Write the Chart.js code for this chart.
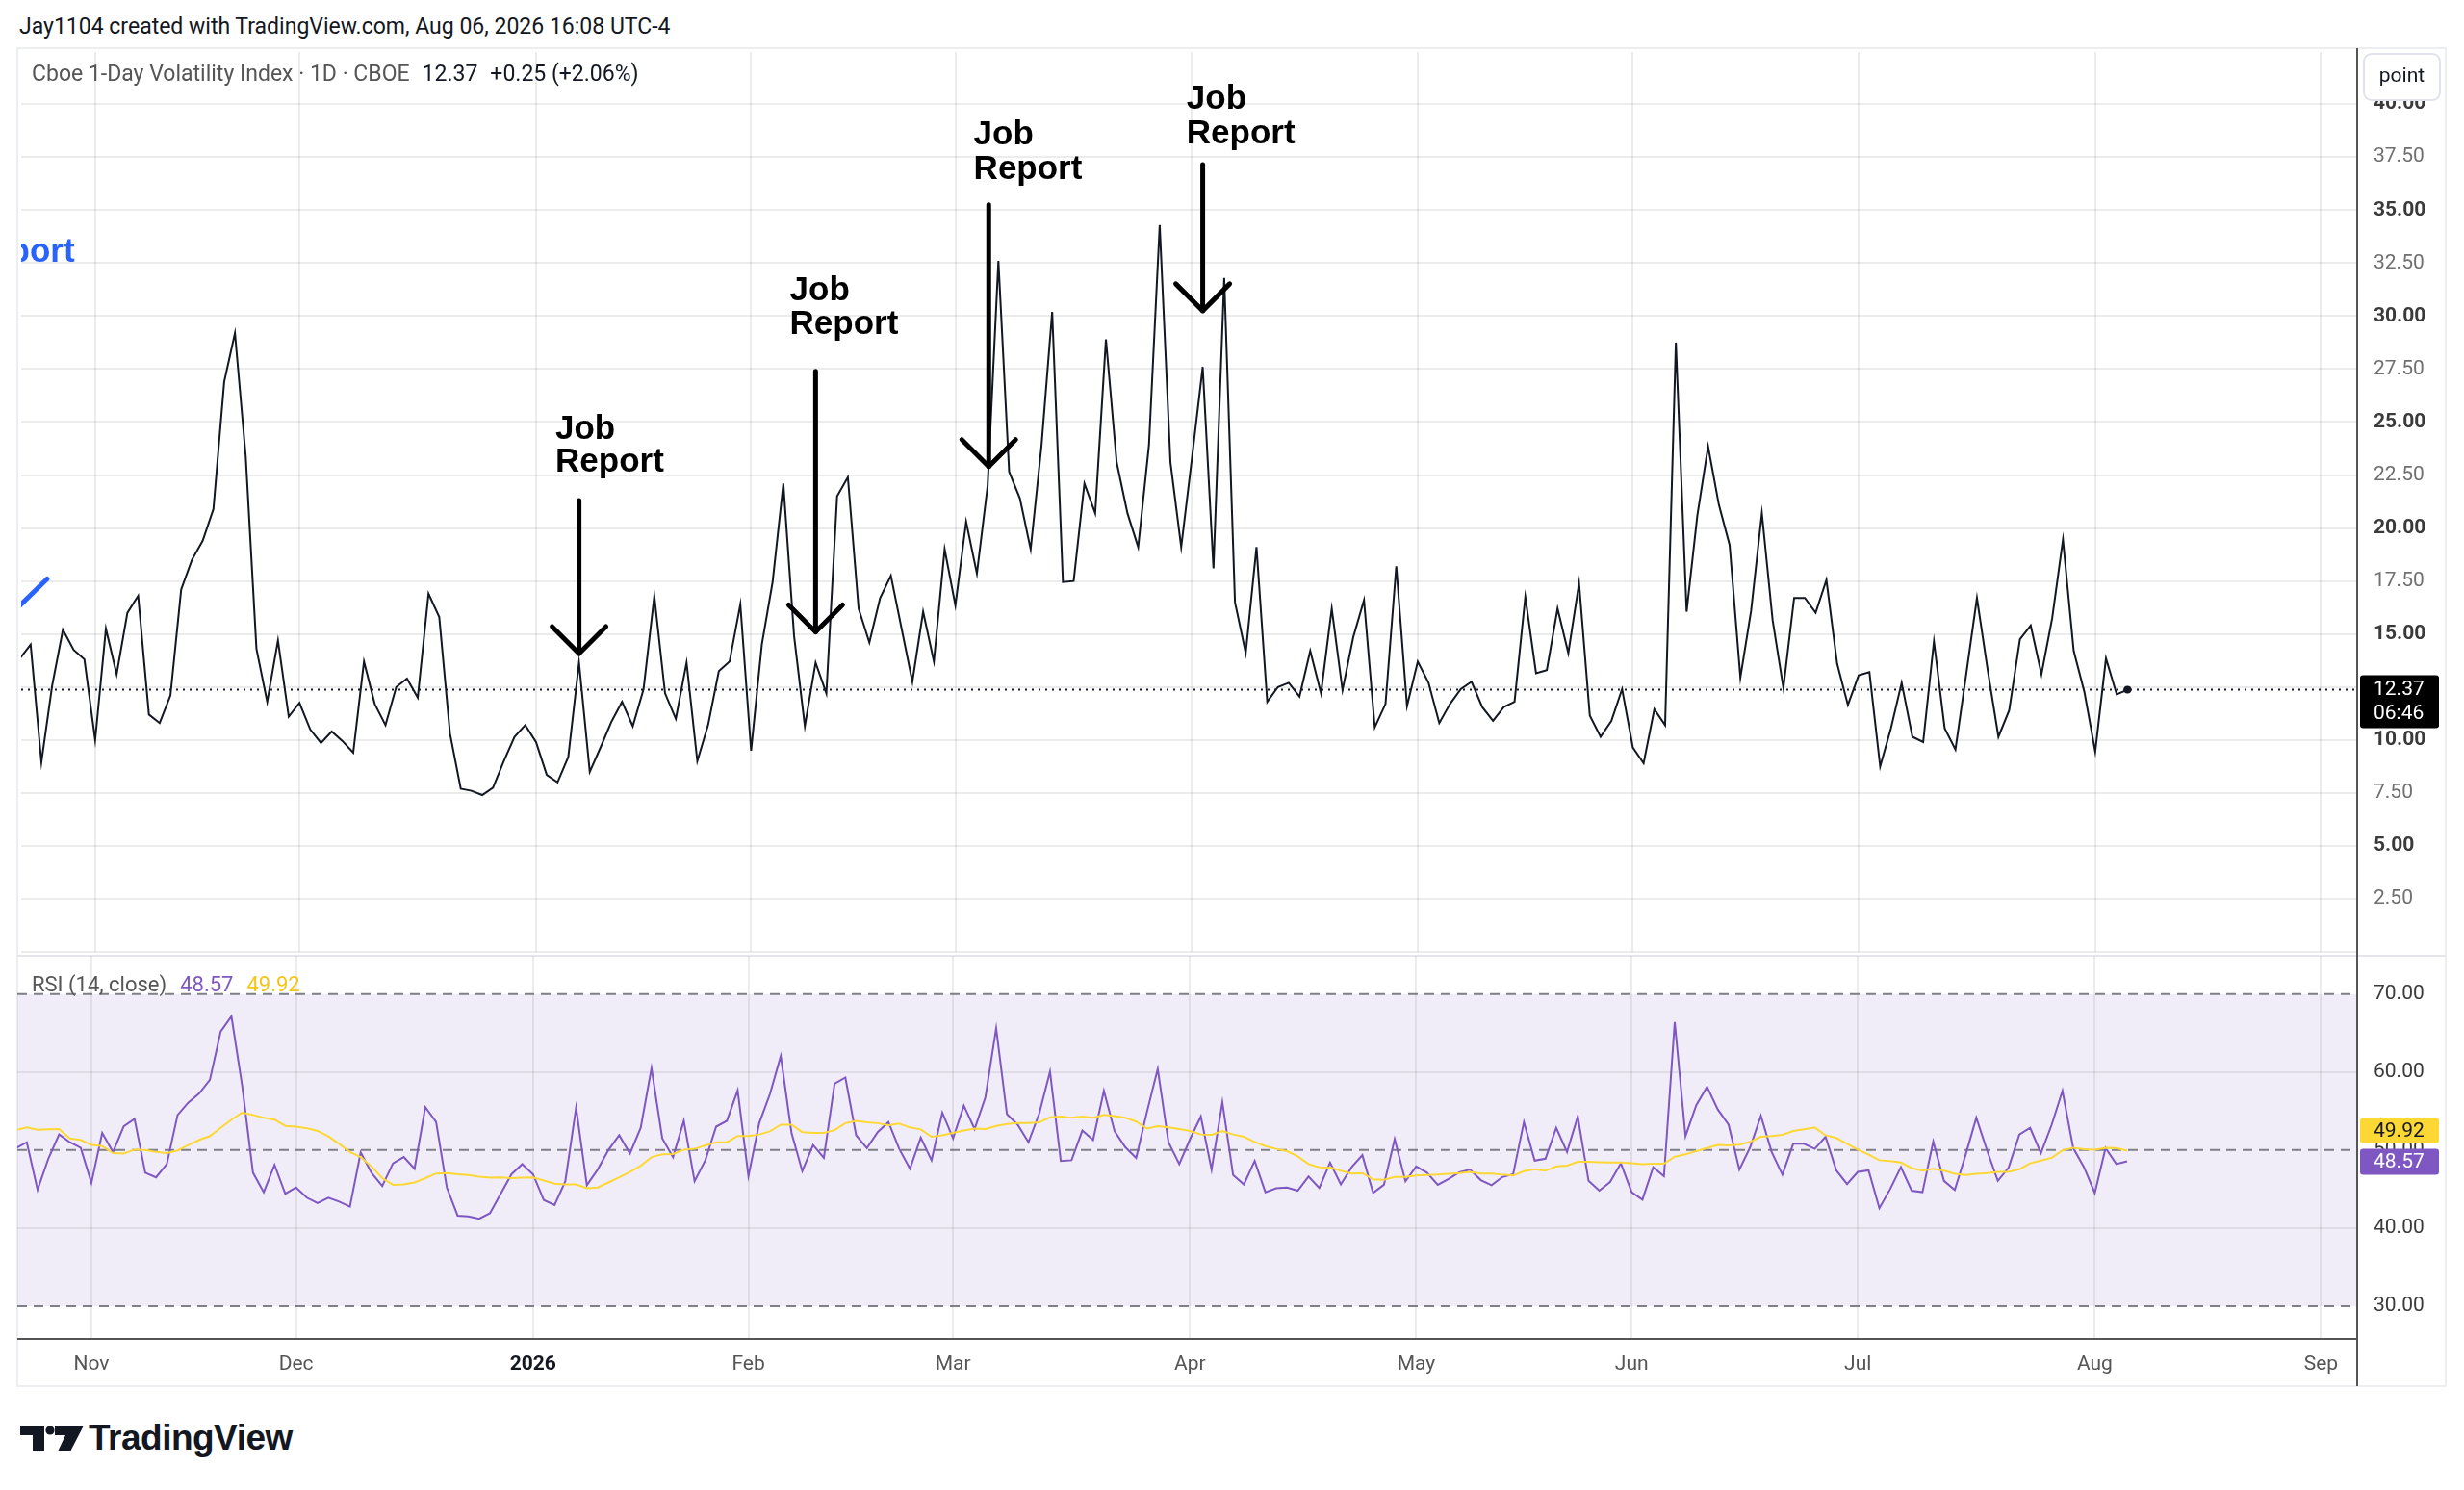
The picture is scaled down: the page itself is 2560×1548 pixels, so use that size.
<!DOCTYPE html>
<html>
<head>
<meta charset="utf-8">
<title>Cboe 1-Day Volatility Index</title>
<script src="https://cdn.jsdelivr.net/npm/chart.js@4.4.1/dist/chart.umd.min.js"></script>
<style>
  body { margin: 0; background: #fff; width: 2560px; height: 1548px; position: relative; overflow: hidden;
         font-family: Roboto, "Liberation Sans", sans-serif; color: #131722; }
  #frame { position: absolute; left: 17px; top: 49px; width: 2525px; height: 1392px; box-sizing: border-box;
           border: 2px solid #eceef2; }
  .wrap { position: absolute; }
  .wrap canvas { display: block; }
  #header { position: absolute; left: 20px; top: 15px; font-size: 23px; line-height: 26px; white-space: nowrap; }
  .legend { position: absolute; left: 33px; line-height: 26px; white-space: nowrap; color: #555; }
  #sep { position: absolute; left: 18px; top: 992px; width: 2523px; height: 2px; background: #e6e6ea; }
  #axisLine { position: absolute; left: 2448px; top: 50px; width: 2px; height: 1390px; background: #555; }
  #logo { position: absolute; left: 21px; top: 1478px; height: 32px; display: flex; align-items: center; }
  #logo span { font-family: "Liberation Sans", Arial, sans-serif; font-weight: bold; font-size: 37px;
               margin-left: 4px; letter-spacing: -0.5px; color: #131722; }
</style>
</head>
<body>
<div id="frame"></div>
<div id="sep"></div>
<div class="wrap" style="left:18px;top:50px"><canvas id="mainChart" width="2523" height="943"></canvas></div>
<div class="wrap" style="left:18px;top:993px"><canvas id="rsiChart" width="2523" height="447"></canvas></div>
<div id="axisLine"></div>

<div id="header">Jay1104 created with TradingView.com, Aug 06, 2026 16:08 UTC-4</div>
<div class="legend" style="top:64px;font-size:23px">Cboe 1-Day Volatility Index · 1D · CBOE<span style="color:#131722;margin-left:13px">12.37</span><span style="color:#131722;margin-left:13px">+0.25 (+2.06%)</span></div>
<div class="legend" style="top:1010px;font-size:22px">RSI (14, close)<span style="color:#7e57c2;margin-left:14px">48.57</span><span style="color:#f5c518;margin-left:14px">49.92</span></div>

<div id="logo">
  <svg width="67" height="27" viewBox="0 0 67 27">
    <path d="M0 0 H25 V27 H13 V10 H0 Z" fill="#131722"/>
    <circle cx="31" cy="5" r="4.6" fill="#131722"/>
    <path d="M36 0 H66 L52 27 H39 L47 10 H36 Z" fill="#131722"/>
  </svg>
  <span>TradingView</span>
</div>

<script>
// daily closes, one per trading bar (bar 0 = first visible bar)
const vixClose = [
  13.85, 14.5, 8.95, 12.56, 15.2, 14.25, 13.8, 10.0, 15.25, 13.1,
  16.0, 16.8, 11.2, 10.8, 12.1, 17.1, 18.5, 19.4, 20.9, 26.9,
  29.2, 23.4, 14.3, 11.8, 14.7, 11.1, 11.75, 10.5, 9.86, 10.4,
  9.95, 9.4, 13.7, 11.7, 10.7, 12.5, 12.9, 12.0, 16.9, 15.8,
  10.3, 7.7, 7.6, 7.4, 7.75, 9.0, 10.15, 10.7, 9.9, 8.35,
  8.0, 9.2, 13.65, 8.5, 9.65, 10.85, 11.8, 10.65, 12.4, 16.8,
  12.2, 11.0, 13.65, 9.0, 10.7, 13.25, 13.7, 16.4, 9.5, 14.5,
  17.45, 22.1, 14.9, 10.65, 13.65, 12.2, 21.5, 22.4, 16.2, 14.6,
  16.7, 17.75, 15.25, 12.75, 16.05, 13.7, 19.0, 16.35, 20.3, 17.85,
  22.0, 32.6, 22.65, 21.4, 19.0, 23.85, 30.2, 17.45, 17.5, 22.1,
  20.7, 28.9, 23.1, 20.7, 19.1, 23.9, 34.3, 23.1, 19.1, 23.3,
  27.6, 18.1, 31.8, 16.5, 14.1, 19.1, 11.8, 12.5, 12.7, 12.05,
  14.2, 12.2, 16.2, 12.35, 14.85, 16.6, 10.6, 11.7, 18.2, 11.6,
  13.7, 12.7, 10.8, 11.7, 12.4, 12.75, 11.55, 10.9, 11.55, 11.8,
  16.75, 13.15, 13.3, 16.2, 14.1, 17.4, 11.15, 10.15, 10.9, 12.4,
  9.65, 8.9, 11.45, 10.7, 28.75, 16.05, 20.6, 23.85, 21.1, 19.2,
  12.95, 16.1, 20.7, 15.65, 12.45, 16.7, 16.7, 16.0, 17.55, 13.6,
  11.65, 13.05, 13.2, 8.75, 10.55, 12.7, 10.15, 9.9, 14.65, 10.55,
  9.55, 13.1, 16.7, 13.3, 10.15, 11.4, 14.75, 15.4, 13.1, 15.75,
  19.45, 14.2, 12.25, 9.45, 13.85, 12.15, 12.37
];

const rsiValues = [
  50.25, 51.0, 44.9, 48.9, 52.0, 51.0, 50.3, 45.8, 52.2, 49.75,
  53.05, 54.0, 47.1, 46.5, 48.2, 54.5, 56.1, 57.25, 59.0, 65.2,
  67.15, 58.2, 47.1, 44.6, 48.1, 44.4, 45.2, 43.9, 43.2, 43.9,
  43.4, 42.75, 49.7, 47.1, 45.4, 48.3, 49.1, 47.6, 55.5, 53.6,
  45.2, 41.6, 41.5, 41.2, 41.9, 44.4, 46.9, 48.2, 46.9, 43.6,
  42.95, 46.0, 55.45, 45.5, 47.5, 50.0, 51.9, 49.55, 52.85, 60.5,
  51.5, 49.1, 53.75, 46.0, 48.7, 53.0, 53.75, 57.65, 46.65, 53.45,
  57.2, 62.05, 52.2, 47.3, 50.65, 49.0, 58.5, 59.3, 51.9, 50.25,
  52.3, 53.6, 50.15, 47.6, 51.6, 48.7, 54.8, 51.5, 55.7, 52.7,
  56.75, 65.6, 54.6, 53.25, 51.0, 54.7, 60.05, 48.6, 48.7, 52.5,
  51.3, 57.6, 52.4, 50.35, 49.0, 54.9, 60.4, 51.0, 48.2, 51.4,
  54.3, 47.5, 56.15, 46.8, 45.6, 48.6, 44.6, 45.1, 45.2, 44.8,
  46.6, 45.15, 48.4, 45.6, 47.8, 49.35, 44.5, 45.55, 51.4, 46.0,
  47.9, 47.1, 45.55, 46.3, 47.15, 47.5, 46.15, 45.5, 46.55, 46.9,
  53.6, 48.65, 48.9, 52.85, 49.75, 54.3, 46.05, 44.8, 45.9, 48.3,
  44.6, 43.65, 47.8, 46.65, 66.4, 51.8, 55.75, 58.1, 55.2, 53.25,
  47.5, 50.35, 54.4, 49.75, 46.85, 50.8, 50.8, 50.15, 51.7, 47.4,
  45.65, 47.2, 47.4, 42.55, 45.0, 47.8, 44.8, 44.6, 51.1, 46.05,
  44.9, 49.35, 54.15, 49.95, 46.05, 47.75, 52.0, 52.85, 49.6, 53.25,
  57.6, 50.25, 47.8, 44.5, 50.25, 48.2, 48.57
];

const rsiMA = [
  52.55, 52.9, 52.6, 52.65, 52.7, 51.5, 51.3, 50.65, 50.5, 49.6,
  49.55, 50.05, 50.0, 49.75, 49.6, 49.95, 50.65, 51.3, 51.8, 52.85,
  53.9, 54.8, 54.5, 54.15, 53.9, 53.1, 53.0, 52.8, 52.45, 51.75,
  50.8, 49.75, 49.1, 47.9, 46.4, 45.55, 45.6, 45.85, 46.4, 47.0,
  47.05, 46.9, 46.8, 46.6, 46.45, 46.5, 46.4, 46.45, 46.5, 46.1,
  45.7, 45.6, 45.6, 45.1, 45.2, 45.85, 46.5, 47.2, 48.0, 49.1,
  49.45, 49.5, 50.05, 50.15, 50.6, 51.0, 51.0, 51.8, 51.8, 52.0,
  52.4, 53.25, 53.25, 52.3, 52.2, 52.2, 52.55, 53.45, 53.75, 53.55,
  53.45, 53.2, 53.4, 52.9, 52.65, 51.7, 51.9, 52.2, 52.5, 52.75,
  52.7, 53.1, 53.35, 53.45, 53.45, 53.55, 54.2, 54.3, 54.15, 54.3,
  54.15, 54.5, 54.35, 54.15, 53.65, 52.75, 53.05, 52.9, 52.7, 52.45,
  52.0, 51.95, 52.45, 52.0, 51.7, 51.05, 50.5, 50.15, 49.85, 49.2,
  48.2, 47.8, 47.75, 47.35, 47.0, 47.05, 46.25, 46.2, 46.55, 46.55,
  46.75, 46.8, 46.85, 46.95, 47.05, 47.2, 47.0, 47.0, 46.85, 46.75,
  47.3, 47.55, 47.35, 47.9, 48.0, 48.5, 48.5, 48.45, 48.4, 48.4,
  48.3, 48.2, 48.25, 48.25, 49.15, 49.45, 49.85, 50.25, 50.65, 50.6,
  50.7, 51.05, 51.7, 51.8, 51.95, 52.45, 52.65, 52.9, 51.9, 51.55,
  50.8, 50.05, 49.4, 48.7, 48.6, 48.4, 47.7, 47.35, 47.6, 47.35,
  46.95, 46.8, 46.95, 47.05, 47.2, 47.2, 47.55, 48.3, 48.65, 49.0,
  49.95, 50.3, 50.1, 50.05, 50.3, 50.25, 49.92
];

// time axis: bar index where each month starts, and its label
const monthIdx = [7, 26, 48, 68, 87, 109, 130, 150, 171, 193, 214];
const monthLabels = ['Nov', 'Dec', '2026', 'Feb', 'Mar', 'Apr', 'May', 'Jun', 'Jul', 'Aug', 'Sep'];

// "Job Report" drawings, placed in bar / price units
const jobNotes = [
  { bar: 52.0, tip: 14.08, top: 21.3, textBar: 49.8, jobAt: 24.66, reportAt: 23.08 },
  { bar: 74.0, tip: 15.1, top: 27.4, textBar: 71.6, jobAt: 31.2, reportAt: 29.6 },
  { bar: 90.1, tip: 22.9, top: 35.25, textBar: 88.7, jobAt: 38.55, reportAt: 36.9 },
  { bar: 110.0, tip: 30.25, top: 37.15, textBar: 108.5, jobAt: 40.2, reportAt: 38.6 }
];
const blueNote = { textEndBar: 5.1, at: 33.0, from: [-1.5, 15.6], to: [2.53, 17.6] };

const X_MIN = 0.12, X_MAX = 217.36;
const FONT = 'Roboto, "Liberation Sans", sans-serif';
const GRID = 'rgba(0,0,0,0.075)';

Chart.defaults.font.family = FONT;

const monthTicks = function (scale) {
  scale.ticks = monthIdx.map(v => ({ value: v }));
};
// keep the plot area flush with the canvas edges
const noPad = function (s) {
  s.paddingTop = 0;
  s.paddingBottom = 0;
  s.paddingLeft = 0;
  s.paddingRight = 0;
};

const mainDecor = {
  id: 'mainDecor',
  beforeDatasetsDraw(chart) {
    const { ctx, chartArea: a, scales: { y } } = chart;
    const py = y.getPixelForValue(vixClose[vixClose.length - 1]);
    ctx.save();
    ctx.strokeStyle = '#131722';
    ctx.lineWidth = 2;
    ctx.setLineDash([2, 5]);
    ctx.beginPath();
    ctx.moveTo(a.left, py);
    ctx.lineTo(a.right, py);
    ctx.stroke();
    ctx.restore();
  },
  afterDraw(chart) {
    const { ctx, chartArea: a, scales: { x, y } } = chart;
    ctx.save();
    ctx.strokeStyle = '#000';
    ctx.fillStyle = '#000';
    ctx.lineWidth = 5;
    ctx.lineCap = 'round';
    ctx.lineJoin = 'round';
    ctx.font = 'bold 35px "Liberation Sans", Arial, sans-serif';
    ctx.textBaseline = 'middle';
    ctx.textAlign = 'left';
    jobNotes.forEach(n => {
      const ax = x.getPixelForValue(n.bar);
      const tip = y.getPixelForValue(n.tip);
      ctx.beginPath();
      ctx.moveTo(ax, y.getPixelForValue(n.top));
      ctx.lineTo(ax, tip);
      ctx.stroke();
      ctx.beginPath();
      ctx.moveTo(ax - 28, tip - 28);
      ctx.lineTo(ax, tip);
      ctx.lineTo(ax + 28, tip - 28);
      ctx.stroke();
      const tx = x.getPixelForValue(n.textBar);
      ctx.fillText('Job', tx, y.getPixelForValue(n.jobAt));
      ctx.fillText('Report', tx, y.getPixelForValue(n.reportAt));
    });

    // note that runs off the left edge
    ctx.save();
    ctx.beginPath();
    ctx.rect(a.left, a.top, a.right - a.left, a.bottom - a.top);
    ctx.clip();
    ctx.fillStyle = '#2962ff';
    ctx.strokeStyle = '#2962ff';
    ctx.textAlign = 'right';
    ctx.fillText('Report', x.getPixelForValue(blueNote.textEndBar), y.getPixelForValue(blueNote.at));
    ctx.beginPath();
    ctx.moveTo(x.getPixelForValue(blueNote.from[0]), y.getPixelForValue(blueNote.from[1]));
    ctx.lineTo(x.getPixelForValue(blueNote.to[0]), y.getPixelForValue(blueNote.to[1]));
    ctx.stroke();
    ctx.restore();

    // last price tag
    const last = vixClose[vixClose.length - 1];
    const py = y.getPixelForValue(last);
    ctx.fillStyle = '#000';
    ctx.beginPath();
    ctx.roundRect(a.right + 3, py - 15, 82, 55, 3);
    ctx.fill();
    ctx.fillStyle = '#fff';
    ctx.font = '21px ' + FONT;
    ctx.textAlign = 'left';
    ctx.fillText(last.toFixed(2), a.right + 17, py);
    ctx.fillText('06:46', a.right + 17, py + 25);

    // scale mode box
    ctx.fillStyle = '#fff';
    ctx.strokeStyle = '#e0e3eb';
    ctx.lineWidth = 2;
    ctx.beginPath();
    ctx.roundRect(a.right + 7, 6, 79, 48, 8);
    ctx.fill();
    ctx.stroke();
    ctx.fillStyle = '#131722';
    ctx.textAlign = 'center';
    ctx.fillText('point', a.right + 46.5, 30);
    ctx.restore();
  }
};

const rsiDecor = {
  id: 'rsiDecor',
  beforeDraw(chart) {
    const { ctx, chartArea: a, scales: { y } } = chart;
    const top = y.getPixelForValue(70), bottom = y.getPixelForValue(30);
    ctx.save();
    ctx.fillStyle = 'rgba(126,87,194,0.11)';
    ctx.fillRect(0, top, a.right, bottom - top);
    ctx.restore();
  },
  beforeDatasetsDraw(chart) {
    const { ctx, chartArea: a, scales: { y } } = chart;
    ctx.save();
    ctx.strokeStyle = '#7f7f88';
    ctx.lineWidth = 2;
    ctx.setLineDash([10, 7]);
    [70, 50, 30].forEach(v => {
      const py = y.getPixelForValue(v);
      ctx.beginPath();
      ctx.moveTo(0, py);
      ctx.lineTo(a.right, py);
      ctx.stroke();
    });
    ctx.restore();
  },
  afterDraw(chart) {
    const { ctx, chartArea: a, scales: { y } } = chart;
    const rsiLast = rsiValues[rsiValues.length - 1];
    const maLast = rsiMA[rsiMA.length - 1];
    const py = y.getPixelForValue(rsiLast);
    ctx.save();
    ctx.font = '21px ' + FONT;
    ctx.textBaseline = 'middle';
    ctx.textAlign = 'left';
    ctx.fillStyle = '#7e57c2';
    ctx.beginPath();
    ctx.roundRect(a.right + 3, py - 13, 82, 27, 3);
    ctx.fill();
    ctx.fillStyle = '#fff';
    ctx.fillText(rsiLast.toFixed(2), a.right + 17, py + 1);
    const yy = py - 13 - 6 - 26;
    ctx.fillStyle = '#fdd835';
    ctx.beginPath();
    ctx.roundRect(a.right + 3, yy, 82, 26, 3);
    ctx.fill();
    ctx.fillStyle = '#131722';
    ctx.fillText(maLast.toFixed(2), a.right + 17, yy + 14);
    ctx.restore();
  }
};

new Chart(document.getElementById('mainChart'), {
  type: 'line',
  data: {
    datasets: [{
      data: vixClose.map((v, i) => ({ x: i, y: v })),
      borderColor: '#131722',
      borderWidth: 2,
      pointRadius: ctx => ctx.dataIndex === vixClose.length - 1 ? 4 : 0,
      pointBackgroundColor: '#131722',
      pointBorderWidth: 0,
      tension: 0
    }]
  },
  options: {
    responsive: false,
    animation: false,
    layout: { padding: 0 },
    plugins: { legend: { display: false }, tooltip: { enabled: false } },
    scales: {
      x: {
        type: 'linear', min: X_MIN, max: X_MAX,
        afterBuildTicks: monthTicks,
        afterFit: s => { s.height = 0; noPad(s); },
        ticks: { display: false },
        grid: { color: GRID, lineWidth: 2, drawTicks: false },
        border: { display: false }
      },
      y: {
        position: 'right', min: 0, max: 42.46,
        afterFit: s => { s.width = 92; noPad(s); },
        ticks: {
          stepSize: 2.5,
          includeBounds: false,
          padding: 17,
          callback: v => v === 0 ? '' : v.toFixed(2),
          font: ctx => ({ size: 21, weight: ctx.tick && ctx.tick.value % 5 === 0 ? 'bold' : 'normal' }),
          color: ctx => ctx.tick && ctx.tick.value % 5 === 0 ? '#3a3a3a' : '#707070'
        },
        grid: { color: GRID, lineWidth: 2, drawTicks: false },
        border: { display: true, color: '#555', width: 2 }
      }
    }
  },
  plugins: [mainDecor]
});

new Chart(document.getElementById('rsiChart'), {
  type: 'line',
  data: {
    datasets: [
      {
        data: rsiMA.map((v, i) => ({ x: i, y: v })),
        borderColor: '#fdd835',
        borderWidth: 2,
        pointRadius: 0,
        tension: 0
      },
      {
        data: rsiValues.map((v, i) => ({ x: i, y: v })),
        borderColor: '#7e57c2',
        borderWidth: 2,
        pointRadius: 0,
        tension: 0
      }
    ]
  },
  options: {
    responsive: false,
    animation: false,
    layout: { padding: 0 },
    plugins: { legend: { display: false }, tooltip: { enabled: false } },
    scales: {
      x: {
        type: 'linear', min: X_MIN, max: X_MAX,
        afterBuildTicks: monthTicks,
        afterFit: s => { s.height = 49; noPad(s); },
        ticks: {
          autoSkip: false,
          maxRotation: 0,
          padding: 14,
          callback: v => monthLabels[monthIdx.indexOf(v)],
          font: ctx => ({ size: 21, weight: monthLabels[ctx.index] === '2026' ? 'bold' : 'normal' }),
          color: ctx => monthLabels[ctx.index] === '2026' ? '#131722' : '#555'
        },
        grid: { color: GRID, lineWidth: 2, drawTicks: false },
        border: { display: true, color: '#555', width: 2 }
      },
      y: {
        position: 'right', min: 25.8, max: 74.9,
        afterFit: s => { s.width = 92; noPad(s); },
        ticks: {
          stepSize: 10,
          includeBounds: false,
          padding: 17,
          callback: v => v.toFixed(2),
          font: { size: 21 },
          color: '#3a3a3a'
        },
        grid: {
          color: ctx => ctx.tick && (ctx.tick.value === 40 || ctx.tick.value === 60) ? GRID : 'rgba(0,0,0,0)',
          lineWidth: 2,
          drawTicks: false
        },
        border: { display: true, color: '#555', width: 2 }
      }
    }
  },
  plugins: [rsiDecor]
});
</script>
</body>
</html>
